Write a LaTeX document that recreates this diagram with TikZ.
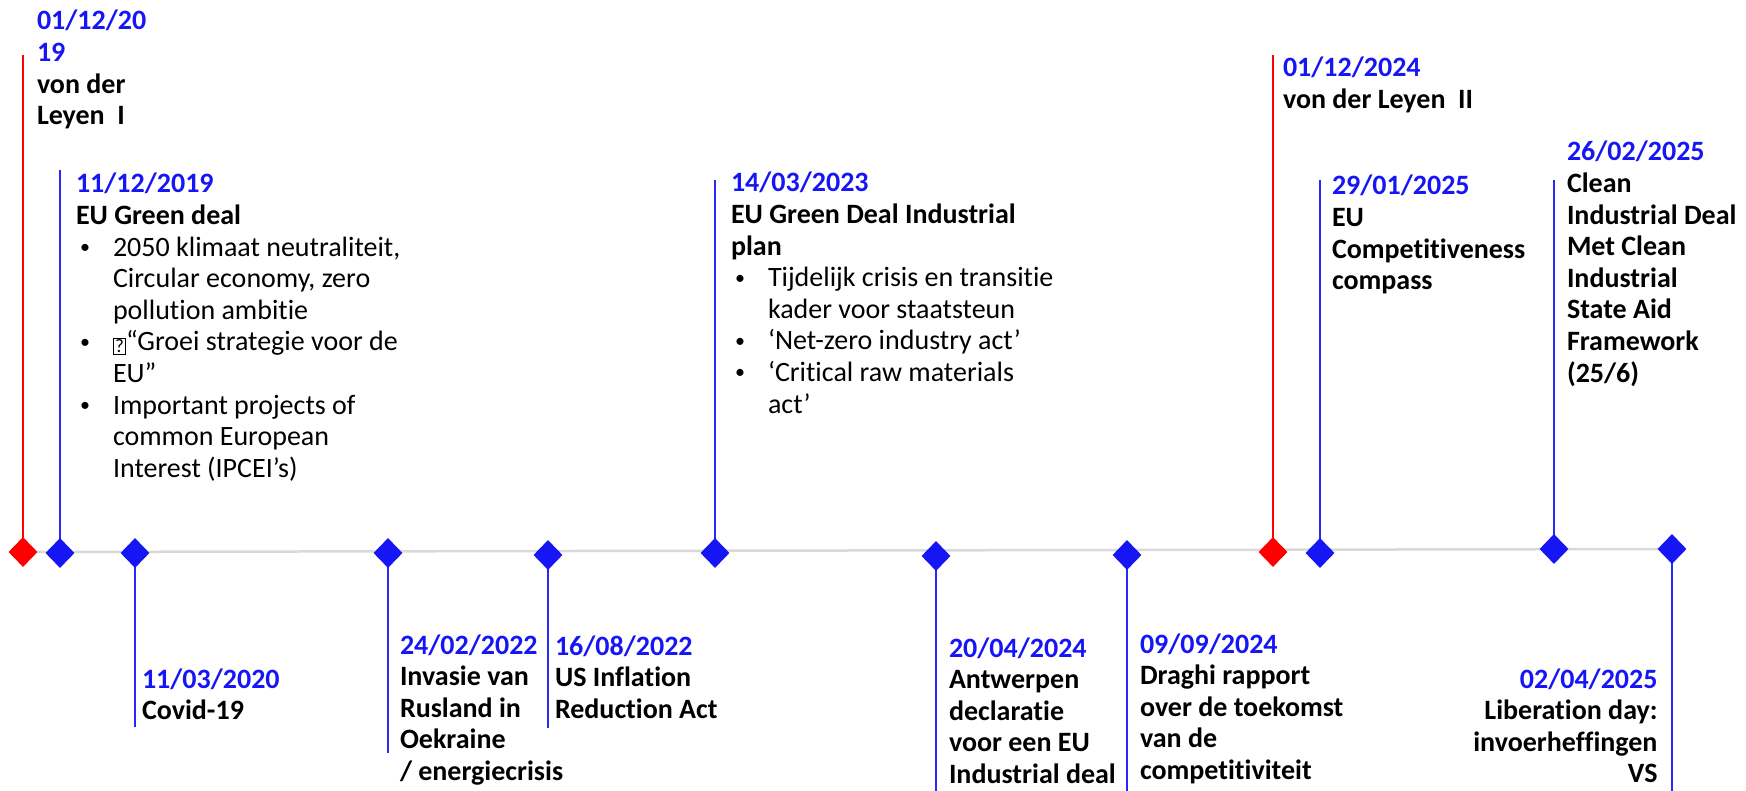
\documentclass[tikz,border=0pt]{standalone}
\usepackage{fontspec}
\setmainfont{Carlito}[Ligatures={NoCommon}]
\usetikzlibrary{shapes.geometric,backgrounds}
\definecolor{dblue}{RGB}{22,22,245}
\definecolor{lblue}{RGB}{40,40,250}
\definecolor{mred}{RGB}{255,0,0}
\definecolor{axisgray}{RGB}{217,217,217}
\newcommand\dateL[1]{\hbox{\bfseries\color{dblue}#1}}
\newcommand\dateR[1]{\hbox to 0pt{\hss\bfseries\color{dblue}#1}}
\newcommand\bL[1]{\hbox{\bfseries #1}}
\newcommand\bR[1]{\hbox to 0pt{\hss\bfseries #1}}
\newcommand\bulL[1]{\hbox{\hspace*{4pt}\makebox[33pt][l]{\raisebox{2.6pt}{\fontsize{20}{20}\selectfont •}}#1}}
\newcommand\contL[1]{\hbox{\hspace*{37pt}#1}}
\newcommand\qbox{\raisebox{-2pt}{\setlength\fboxsep{1pt}\setlength\fboxrule{1.2pt}\fbox{\fontsize{19}{19}\selectfont ?}}}
\tikzset{
  txt/.style={anchor=base west, inner sep=0pt, outer sep=0pt, font=\fontsize{28}{31.6}\selectfont},
  dmd/.style={diamond, inner sep=0pt, minimum width=29pt, minimum height=30pt, draw=none},
  bdmd/.style={dmd, fill=dblue},
  rdmd/.style={dmd, fill=mred},
  bline/.style={draw=lblue, line width=1.3pt},
  rline/.style={draw=mred, line width=1.3pt},
  axisline/.style={draw=axisgray, line width=2.5pt}
}
\begin{document}
\begin{tikzpicture}[x=1pt,y=-1pt]
\useasboundingbox (0,0) rectangle (1746,791);

% diamonds
\node[rdmd] (d1) at (23,552) {};
\node[bdmd] (d2) at (60,553) {};
\node[bdmd] (d3) at (135,553) {};
\node[bdmd] (d4) at (388,553) {};
\node[bdmd] (d5) at (548,555) {};
\node[bdmd] (d6) at (715,553) {};
\node[bdmd] (d7) at (936,556) {};
\node[bdmd] (d8) at (1127,555) {};
\node[rdmd] (d9) at (1273,552) {};
\node[bdmd] (d10) at (1320,553) {};
\node[bdmd] (d11) at (1554,549) {};
\node[bdmd] (d12) at (1672,549) {};

% line ends
\coordinate (e1) at (23,55);
\coordinate (e2) at (60,170);
\coordinate (e3) at (135,727);
\coordinate (e4) at (388,753);
\coordinate (e5) at (548,728);
\coordinate (e6) at (715,180);
\coordinate (e7) at (936,791);
\coordinate (e8) at (1127,791);
\coordinate (e9) at (1273,55);
\coordinate (e10) at (1320,180);
\coordinate (e11) at (1554,180);
\coordinate (e12) at (1672,791);

\begin{scope}[on background layer]
  \draw[axisline] (d1.center) -- (d12.center);
  \draw[rline] (d1.center) -- (e1);
  \draw[bline] (d2.center) -- (e2);
  \draw[bline] (d3.center) -- (e3);
  \draw[bline] (d4.center) -- (e4);
  \draw[bline] (d5.center) -- (e5);
  \draw[bline] (d6.center) -- (e6);
  \draw[bline] (d7.center) -- (e7);
  \draw[bline] (d8.center) -- (e8);
  \draw[rline] (d9.center) -- (e9);
  \draw[bline] (d10.center) -- (e10);
  \draw[bline] (d11.center) -- (e11);
  \draw[bline] (d12.center) -- (e12);
\end{scope}

% texts
\node[txt] (t1) at (37,30) {\vtop{\dateL{01/12/20}\dateL{19}\bL{von der}\bL{Leyen~~I}}};
\node[txt] (t2) at (76,193) {\vtop{\dateL{11/12/2019}\bL{EU Green deal}
  \bulL{2050 klimaat neutraliteit,}\contL{Circular economy, zero}\contL{pollution ambitie}
  \bulL{\qbox“Groei strategie voor de}\contL{EU”}
  \bulL{Important projects of}\contL{common European}\contL{Interest (IPCEI’s)}}};
\node[txt] (t3) at (142,688) {\vtop{\dateL{11/03/2020}\bL{Covid-19}}};
\node[txt] (t4) at (400,654) {\vtop{\dateL{24/02/2022}\bL{Invasie van}\bL{Rusland in}\bL{Oekraine}\bL{/ energiecrisis}}};
\node[txt] (t5) at (555,655) {\vtop{\dateL{16/08/2022}\bL{US Inflation}\bL{Reduction Act}}};
\node[txt] (t6) at (731,192) {\vtop{\dateL{14/03/2023}\bL{EU Green Deal Industrial}\bL{plan}
  \bulL{Tijdelijk crisis en transitie}\contL{kader voor staatsteun}
  \bulL{‘Net-zero industry act’}
  \bulL{‘Critical raw materials}\contL{act’}}};
\node[txt] (t7) at (949,657) {\vtop{\dateL{20/04/2024}\bL{Antwerpen}\bL{declaratie}\bL{voor een EU}\bL{Industrial deal}}};
\node[txt] (t8) at (1140,653) {\vtop{\dateL{09/09/2024}\bL{Draghi rapport}\bL{over de toekomst}\bL{van de}\bL{competitiviteit}}};
\node[txt] (t9) at (1283,77) {\vtop{\dateL{01/12/2024}\bL{von der Leyen~~II}}};
\node[txt] (t10) at (1332,195) {\vtop{\dateL{29/01/2025}\bL{EU}\bL{Competitiveness}\bL{compass}}};
\node[txt] (t11) at (1567,161) {\vtop{\dateL{26/02/2025}\bL{Clean}\bL{Industrial Deal}\bL{Met Clean}\bL{Industrial}\bL{State Aid}\bL{Framework}\bL{(25/6)}}};
\node[txt] (t12) at (1657,688) {\vtop{\dateR{02/04/2025}\bR{Liberation day:}\bR{invoerheffingen}\bR{VS}}};
\end{tikzpicture}
\end{document}
